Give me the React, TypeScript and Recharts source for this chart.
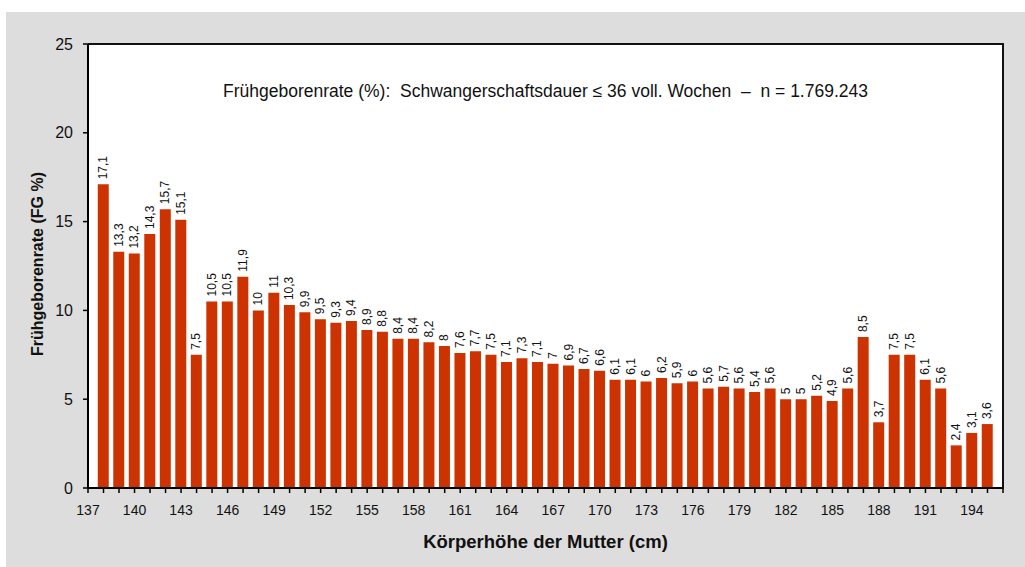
import { BarChart, Bar, XAxis, YAxis, LabelList } from "recharts";

// Körperhöhe der Mutter (cm) – one bar per centimetre
const HEIGHTS = [
    138, 139, 140, 141, 142, 143, 144, 145, 146, 147,
    148, 149, 150, 151, 152, 153, 154, 155, 156, 157,
    158, 159, 160, 161, 162, 163, 164, 165, 166, 167,
    168, 169, 170, 171, 172, 173, 174, 175, 176, 177,
    178, 179, 180, 181, 182, 183, 184, 185, 186, 187,
    188, 189, 190, 191, 192, 193, 194, 195,
];

// Frühgeborenrate (%)
const RATES = [
    17.1, 13.3, 13.2, 14.3, 15.7, 15.1, 7.5, 10.5, 10.5, 11.9,
    10, 11, 10.3, 9.9, 9.5, 9.3, 9.4, 8.9, 8.8, 8.4,
    8.4, 8.2, 8, 7.6, 7.7, 7.5, 7.1, 7.3, 7.1, 7,
    6.9, 6.7, 6.6, 6.1, 6.1, 6, 6.2, 5.9, 6, 5.6,
    5.7, 5.6, 5.4, 5.6, 5, 5, 5.2, 4.9, 5.6, 8.5,
    3.7, 7.5, 7.5, 6.1, 5.6, 2.4, 3.1, 3.6,
];

const X_DOMAIN: [number, number] = [137, 196];
const X_TICKS = Array.from({ length: X_DOMAIN[1] - X_DOMAIN[0] + 1 }, (_, i) => X_DOMAIN[0] + i);
const X_TICK_LABELS = [137, 140, 143, 146, 149, 152, 155, 158, 161, 164, 167, 170, 173, 176, 179, 182, 185, 188, 191, 194];
const Y_TICKS = [0, 5, 10, 15, 20, 25];

const TITLE = "Frühgeborenrate (%):  Schwangerschaftsdauer ≤ 36 voll. Wochen  –  n = 1.769.243";
const X_LABEL = "Körperhöhe der Mutter (cm)";
const Y_LABEL = "Frühgeborenrate (FG %)";

const FONT = '"Liberation Sans", Arial, Helvetica, sans-serif';
const BAR_COLOR = "#CC3300";

const data = HEIGHTS.map((h, i) => ({ height: h, rate: RATES[i] }));

const fmt = (v: number) => String(v).replace(".", ",");

const XTick = (props: any) => {
    const { x, y, payload } = props;
    if (!X_TICK_LABELS.includes(payload.value)) return <g />;
    return (
        <text x={x} y={y} dy={20} textAnchor="middle" fontSize={14} fill="#111" fontFamily={FONT}>
            {payload.value}
        </text>
    );
};

const BarValue = (props: any) => {
    const { x, y, width, value } = props;
    const cx = x + width / 2;
    const ty = y - 5;
    return (
        <text
            x={cx}
            y={ty}
            transform={`rotate(-90 ${cx} ${ty})`}
            textAnchor="start"
            dominantBaseline="central"
            fontSize={12}
            fill="#111"
            fontFamily={FONT}
        >
            {fmt(value)}
        </text>
    );
};

const App = () => {
    return (
        <div style={{ position: "absolute", left: 0, top: 0, width: 1025, height: 567, background: "#fff", fontFamily: FONT }}>
            {/* grey frame */}
            <div style={{ position: "absolute", left: 6, top: 12, width: 1019, height: 555, background: "#DDDDDD" }} />
            {/* white plot area */}
            <div style={{ position: "absolute", left: 88, top: 44, width: 915, height: 444, background: "#fff" }} />

            <div style={{ position: "absolute", left: 0, top: 0 }}>
                <BarChart width={1025} height={567} data={data} margin={{ top: 44, right: 22, bottom: 49, left: 28 }}>
                    <XAxis
                        dataKey="height"
                        type="number"
                        domain={X_DOMAIN}
                        ticks={X_TICKS}
                        interval={0}
                        height={30}
                        tickSize={5}
                        axisLine={{ stroke: "#000", strokeWidth: 2 }}
                        tickLine={{ stroke: "#000", strokeWidth: 1.5 }}
                        tick={<XTick />}
                    />
                    <YAxis
                        type="number"
                        domain={[0, 25]}
                        ticks={Y_TICKS}
                        interval={0}
                        width={60}
                        tickSize={5}
                        tickMargin={10}
                        axisLine={{ stroke: "#000", strokeWidth: 2 }}
                        tickLine={{ stroke: "#000", strokeWidth: 1.5 }}
                        tick={{ fontSize: 16, fill: "#111", fontFamily: FONT }}
                    />
                    <Bar dataKey="rate" fill={BAR_COLOR} barSize={11} isAnimationActive={false}>
                        <LabelList dataKey="rate" content={<BarValue />} />
                    </Bar>
                </BarChart>
            </div>

            {/* plot border top / right */}
            <div
                style={{
                    position: "absolute", left: 88, top: 43, width: 914, height: 444,
                    borderTop: "2px solid #111", borderRight: "2px solid #111", pointerEvents: "none",
                }}
            />

            {/* title inside plot */}
            <div
                style={{
                    position: "absolute", left: 88, width: 915, top: 81, textAlign: "center",
                    fontSize: 17.5, lineHeight: "20px", color: "#111", whiteSpace: "pre",
                }}
            >
                {TITLE}
            </div>

            {/* axis titles */}
            <div
                style={{
                    position: "absolute", left: 88, width: 915, top: 531, textAlign: "center",
                    fontSize: 18.5, lineHeight: "22px", fontWeight: "bold", color: "#111",
                }}
            >
                {X_LABEL}
            </div>
            <div
                style={{
                    position: "absolute", left: 38, top: 264, width: 0, height: 0,
                }}
            >
                <div
                    style={{
                        position: "absolute", left: -150, top: -10, width: 300, textAlign: "center",
                        transform: "rotate(-90deg)", fontSize: 16, fontWeight: "bold", color: "#111",
                        lineHeight: "20px",
                    }}
                >
                    {Y_LABEL}
                </div>
            </div>
        </div>
    );
};

export default App;
